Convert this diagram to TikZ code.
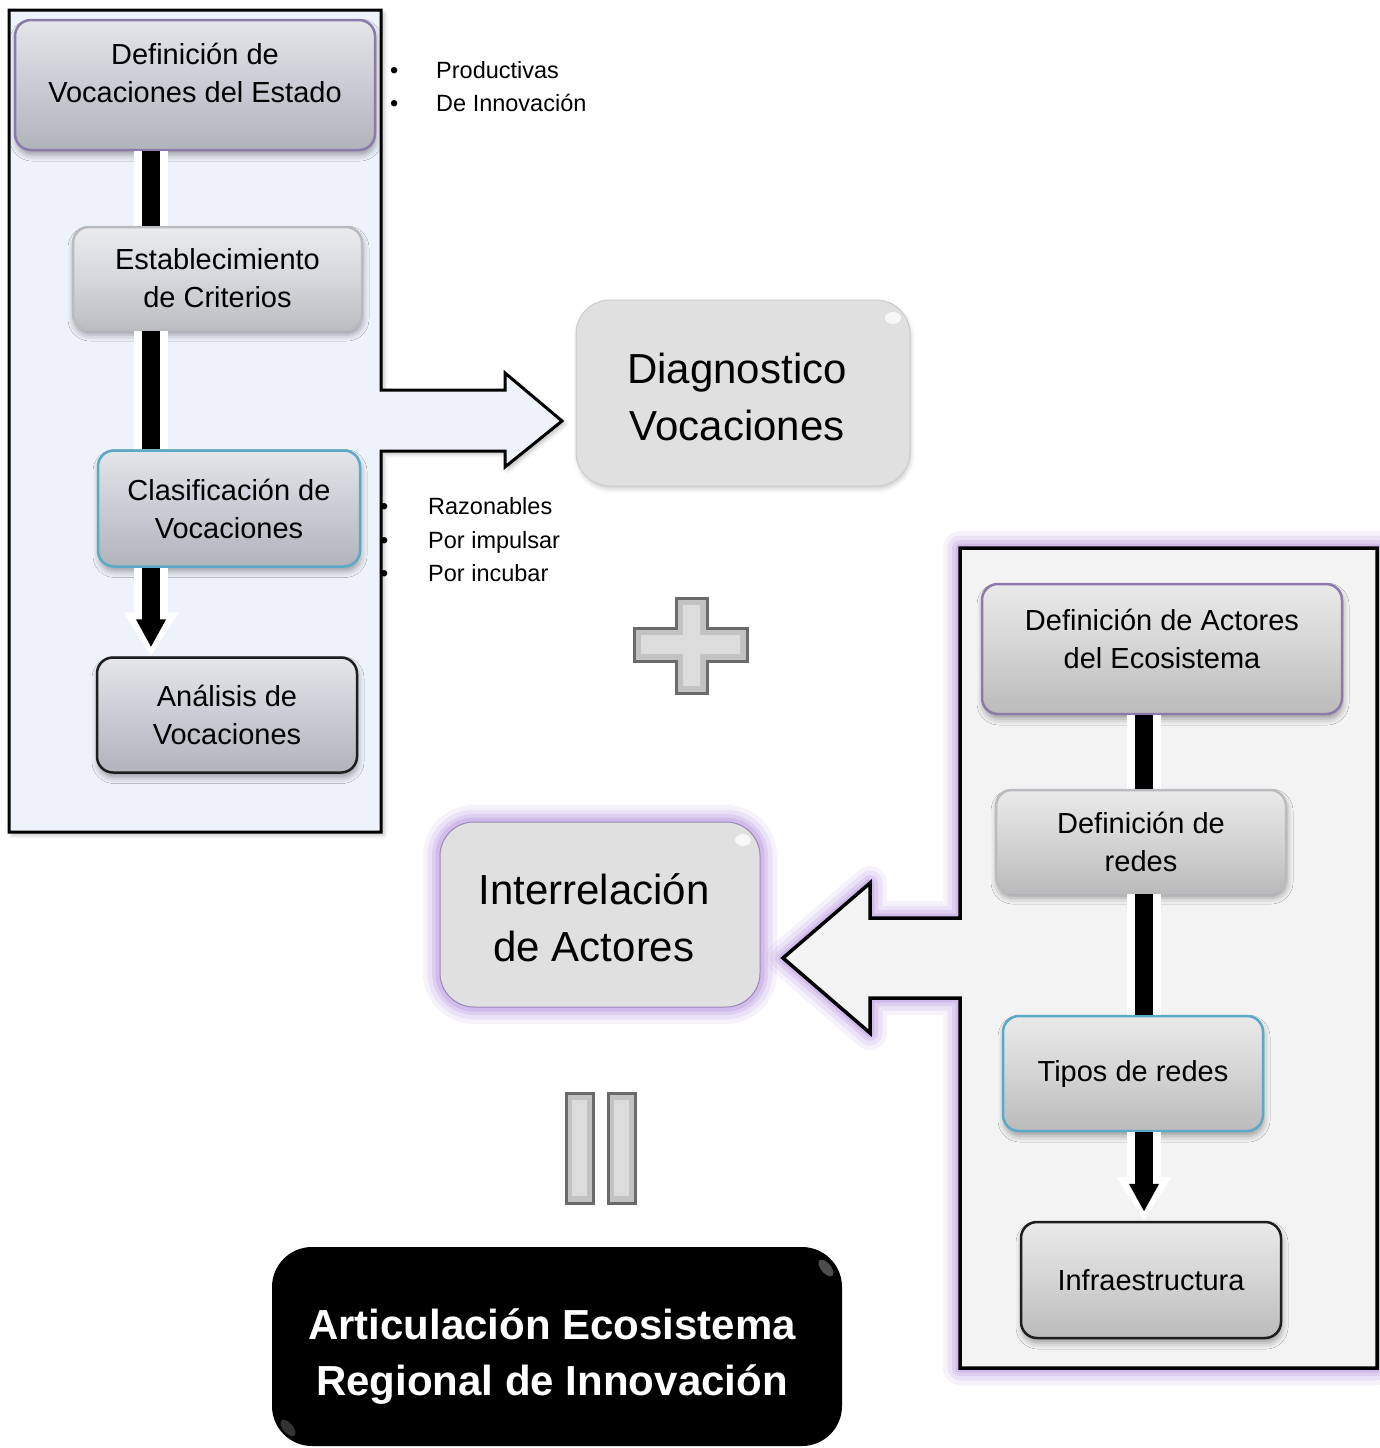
\documentclass[tikz,border=0pt]{standalone}
\usepackage{fontspec}
\setmainfont{Liberation Sans}
\usetikzlibrary{arrows.meta,shadows.blur}

\definecolor{leftbg}{HTML}{EEF2FA}
\definecolor{rightbg}{HTML}{F3F3F3}
\definecolor{stepblue}{HTML}{C9CCD3}
\definecolor{steplight}{HTML}{D5D7DB}
\definecolor{stepgray}{HTML}{D4D4D4}
\definecolor{edgepurple}{HTML}{8C7BAA}
\definecolor{edgeteal}{HTML}{5AA9C6}
\definecolor{edgelight}{HTML}{B9BBBF}
\definecolor{edgedark}{HTML}{1E1E1E}
\definecolor{glowpurple}{HTML}{C2A8E4}
\definecolor{resultgray}{HTML}{E0E0E0}
\definecolor{bevelgray}{HTML}{C2C2C2}
\definecolor{bevelface}{HTML}{DCDCDC}
\definecolor{beveledge}{HTML}{6A6A6A}

\tikzset{
  stepbox/.style={rounded corners=16pt, line width=2.5pt, align=center,
    inner sep=0pt, font=\fontsize{29}{38}\selectfont, text=black,
    top color=#1!50!white, bottom color=#1!88!black, middle color=#1,
    blur shadow={shadow xshift=1pt, shadow yshift=-5pt,
      shadow blur radius=6pt, shadow opacity=35}},
  resultbox/.style={rounded corners=34pt, fill=resultgray, draw=black!20,
    line width=1pt, align=center, inner sep=0pt,
    font=\fontsize{42}{57}\selectfont, text=black},
  softshadow/.style={blur shadow={shadow xshift=1pt, shadow yshift=-3pt,
      shadow blur radius=4pt, shadow opacity=20}},
  purpleglow/.style={
    preaction={draw=glowpurple, line width=34pt, opacity=0.15, line join=round},
    preaction={draw=glowpurple, line width=25pt, opacity=0.22, line join=round},
    preaction={draw=glowpurple, line width=16pt, opacity=0.32, line join=round},
    preaction={draw=glowpurple, line width=9pt, opacity=0.5, line join=round}},
  bulletline/.style={anchor=base west, inner sep=0pt,
    font=\fontsize{23.5}{33}\selectfont, text=black},
  barhalo/.style={line width=34pt, white},
  barcore/.style={line width=18pt, black},
  bevel/.style={fill=bevelgray, draw=beveledge, line width=3pt},
  bevelinner/.style={fill=bevelface},
  spot/.style={fill=white, opacity=0.75}
}

\begin{document}
\begin{tikzpicture}[x=1pt,y=-1pt]
\useasboundingbox (0,0) rectangle (1380,1448);

% ---- panels with block arrows ----
\path[fill=leftbg, draw=black, line width=3pt, line join=miter,
  blur shadow={shadow xshift=3pt, shadow yshift=-3pt, shadow blur radius=4pt, shadow opacity=25}]
  (9,10) -- (381,10) -- (381,390) -- (505,390) -- (505,373) -- (562,421) -- (505,467)
  -- (505,451) -- (381,451) -- (381,832) -- (9,832) -- cycle;

\path[fill=rightbg, draw=black, line width=3.5pt, line join=miter, purpleglow]
  (960,548) -- (1377,548) -- (1377,1368) -- (960,1368) -- (960,998) -- (870,998)
  -- (870,1033) -- (783,958) -- (870,883) -- (870,918) -- (960,918) -- cycle;

% ---- left stage: vocations ----
\node[stepbox=stepblue, draw=edgepurple, minimum width=360pt, minimum height=130pt, text depth=24pt]
  (n1) at (195,85) {Definición de\\Vocaciones del Estado};
\node[stepbox=steplight, draw=edgelight, minimum width=289pt, minimum height=103pt]
  (n2) at (217.5,278.5) {Establecimiento\\de Criterios};
\node[stepbox=stepblue, draw=edgeteal, minimum width=262pt, minimum height=116pt]
  (n3) at (229,508.5) {Clasificación de\\Vocaciones};
\node[stepbox=stepblue, draw=edgedark, minimum width=260pt, minimum height=115pt]
  (n4) at (227,715) {Análisis de\\Vocaciones};

\node[bulletline] (b1) at (390,78) {\makebox[46pt][l]{•}Productivas};
\node[bulletline] (b2) at (390,111) {\makebox[46pt][l]{•}De Innovación};
\node[bulletline] (b3) at (380,514) {\makebox[48pt][l]{•}Razonables};
\node[bulletline] (b4) at (380,548) {\makebox[48pt][l]{•}Por impulsar};
\node[bulletline] (b5) at (380,581) {\makebox[48pt][l]{•}Por incubar};

\node[resultbox, softshadow, minimum width=334pt, minimum height=186pt]
  (diag) at (743,393) {\rule{0pt}{38pt}Diagnostico\hspace*{12pt}\\Vocaciones\hspace*{12pt}};

% ---- right stage: actors ----
\node[stepbox=stepgray, draw=edgepurple, minimum width=360pt, minimum height=130pt, text depth=20pt]
  (r1) at (1162,649) {Definición de Actores\\del Ecosistema};
\node[stepbox=stepgray, draw=edgelight, minimum width=290pt, minimum height=103pt]
  (r2) at (1141,841.5) {Definición de\\redes};
\node[stepbox=stepgray, draw=edgeteal, minimum width=260pt, minimum height=115pt]
  (r3) at (1133,1073.5) {Tipos de redes};
\node[stepbox=stepgray, draw=edgedark, minimum width=260pt, minimum height=116pt]
  (r4) at (1151,1280) {Infraestructura};

\node[resultbox, purpleglow, draw=glowpurple!80!black, minimum width=320pt, minimum height=185pt]
  (inter) at (600,914.5) {\rule{0pt}{38pt}Interrelación\hspace*{12pt}\\de Actores\hspace*{12pt}};

\node[fill=black, rounded corners=40pt, minimum width=570pt, minimum height=199pt,
  inner sep=0pt, align=center, text=white, font=\fontsize{42}{56}\selectfont\bfseries]
  (art) at (557,1346.5) {\rule{0pt}{50pt}Articulación Ecosistema\hspace*{10pt}\\Regional de Innovación\hspace*{10pt}};

% glossy highlights
\fill[spot] (893,318) ellipse (8pt and 6pt);
\fill[spot] (743,840) ellipse (8pt and 6pt);
\fill[white, opacity=0.3, rotate around={40:(826,1268)}] (826,1268) ellipse (5pt and 10pt);
\fill[white, opacity=0.2, rotate around={40:(288,1428)}] (288,1428) ellipse (5pt and 10pt);

% plus sign
\path[bevel] (676,598) -- (707,598) -- (707,628) -- (747,628) -- (747,661) -- (707,661)
  -- (707,693) -- (676,693) -- (676,661) -- (634,661) -- (634,628) -- (676,628) -- cycle;
\path[bevelinner] (683,605) -- (700,605) -- (700,635) -- (740,635) -- (740,654) -- (700,654)
  -- (700,686) -- (683,686) -- (683,654) -- (641,654) -- (641,635) -- (683,635) -- cycle;

% equals sign (vertical bars)
\path[bevel] (566,1093) rectangle (593,1203);
\path[bevelinner] (572,1100) rectangle (587,1196);
\path[bevel] (608,1093) rectangle (635,1203);
\path[bevelinner] (614,1100) rectangle (629,1196);

% ---- step connectors ----
\coordinate (lbar) at (151,0);
\coordinate (rbar) at (1144,0);
\draw[barhalo] (n1.south -| lbar) -- (n2.north -| lbar);
\draw[barcore] (n1.south -| lbar) -- (n2.north -| lbar);
\draw[barhalo] (n2.south -| lbar) -- (n3.north -| lbar);
\draw[barcore] (n2.south -| lbar) -- (n3.north -| lbar);
\draw[barhalo, -{Triangle[width=52pt,length=44pt]}] (n3.south -| lbar) -- (n4.north -| lbar);
\draw[barcore, shorten >=9pt, -{Triangle[width=28pt,length=28pt]}] (n3.south -| lbar) -- (n4.north -| lbar);

\draw[barhalo] (r1.south -| rbar) -- (r2.north -| rbar);
\draw[barcore] (r1.south -| rbar) -- (r2.north -| rbar);
\draw[barhalo] (r2.south -| rbar) -- (r3.north -| rbar);
\draw[barcore] (r2.south -| rbar) -- (r3.north -| rbar);
\draw[barhalo, -{Triangle[width=52pt,length=44pt]}] (r3.south -| rbar) -- (r4.north -| rbar);
\draw[barcore, shorten >=9pt, -{Triangle[width=28pt,length=28pt]}] (r3.south -| rbar) -- (r4.north -| rbar);
\end{tikzpicture}
\end{document}
